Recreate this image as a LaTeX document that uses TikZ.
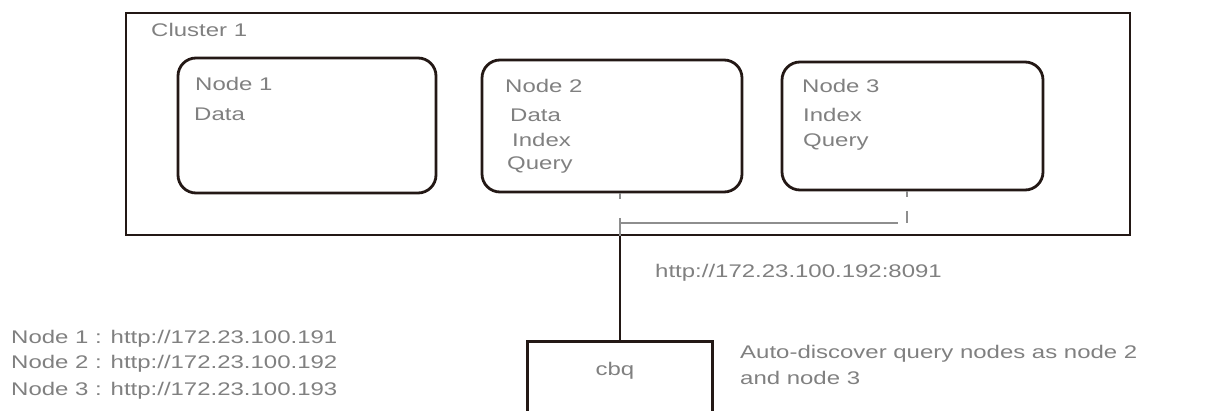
\documentclass[tikz,border=0pt]{standalone}
\usepackage{fontspec}
\newfontfamily\labfont[FakeStretch=1.31]{Liberation Sans}
\definecolor{ink}{HTML}{231815}
\definecolor{txtgray}{HTML}{808080}
\definecolor{wiregray}{HTML}{8E8E8E}
\begin{document}
\begin{tikzpicture}[x=1pt,y=-1pt,
  txt/.style={inner sep=0pt, anchor=base west, text=txtgray, font=\labfont\fontsize{18.3}{22}\selectfont},
  cluster/.style={draw=ink, line width=2.8pt, inner sep=0pt},
  srv/.style={draw=ink, line width=2.8pt, rounded corners=18pt, inner sep=0pt},
  wire/.style={draw=wiregray, line width=1.8pt},
  link/.style={draw=ink, line width=2pt}
]
\useasboundingbox (0,0) rectangle (1217,411);
\clip (0,0) rectangle (1217,411);
% cluster
\node[cluster, minimum width=1004pt, minimum height=222pt] (cl) at (628,124) {};
\node[txt] (cllab) at (151,37) {Cluster 1};
% server nodes
\node[srv, minimum width=258pt, minimum height=135pt] (n1) at (307,125.5) {};
\node[srv, minimum width=260pt, minimum height=132pt] (n2) at (612,126) {};
\node[srv, minimum width=261pt, minimum height=128pt] (n3) at (912.5,126) {};
\node[txt] (n1a) at (195,91) {Node 1};
\node[txt] (n1b) at (194,121) {Data};
\node[txt] (n2a) at (505,93) {Node 2};
\node[txt] (n2b) at (510,122) {Data};
\node[txt] (n2c) at (512,147) {Index};
\node[txt] (n2d) at (507,170) {Query};
\node[txt] (n3a) at (802,93) {Node 3};
\node[txt] (n3b) at (803,122) {Index};
\node[txt] (n3c) at (803,147) {Query};
% cbq
\node[cluster, minimum width=185pt, minimum height=140pt, anchor=north] (cbq) at (620,340) {};
\node[txt, anchor=base] (cbqt) at (615,375) {cbq};
% connectors
\coordinate (a2) at (620,193);
\coordinate (a3) at (907,191);
\coordinate (j2) at (620,223);
\coordinate (j3) at (898,223);
\coordinate (b3) at (907,223);
\coordinate (t2) at (620,218);
\draw[wire, line width=1.4pt, dash pattern=on 6pt off 30pt] (a2) -- (j2);
\draw[wire, line width=1.4pt, dash pattern=on 6pt off 14pt on 12pt off 10pt] (a3) -- (b3);
\draw[wire] (j2) -- (j3);
\draw[wire] (t2) -- (t2 |- cl.south);
\draw[link] (cbq.north) -- (cbq.north |- cl.south);
% labels
\node[txt] (url) at (655,278) {http://172.23.100.192:8091};
\node[txt] (auto1) at (740,358) {Auto-discover query nodes as node 2};
\node[txt] (auto2) at (740,384) {and node 3};
\node[txt] (l1) at (11,343) {Node 1 : http://172.23.100.191};
\node[txt] (l2) at (11,368) {Node 2 : http://172.23.100.192};
\node[txt] (l3) at (11,395) {Node 3 : http://172.23.100.193};
\end{tikzpicture}
\end{document}
